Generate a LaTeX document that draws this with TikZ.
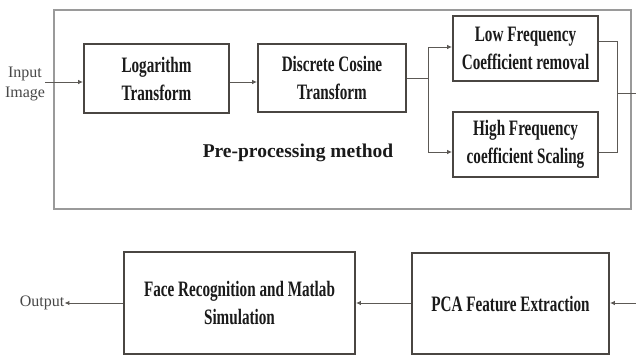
\documentclass[tikz,border=0pt]{standalone}
\usepackage{fontspec}
\setmainfont{Liberation Serif}
\newfontfamily\condbf[FakeStretch=0.69]{Liberation Serif Bold}
\usetikzlibrary{arrows.meta}
\definecolor{boxline}{HTML}{4A4642}
\definecolor{txt}{HTML}{1A1A1A}
\definecolor{frame}{HTML}{9A9A9A}
\begin{document}
\begin{tikzpicture}[x=1pt,y=-1pt,
  blk/.style={draw=boxline,line width=1.8pt,fill=white,align=center,inner sep=0pt,
    text=txt,font=\condbf\fontsize{22}{28}\selectfont},
  lbl/.style={align=center,text=txt!80,inner sep=0pt,font=\fontsize{16}{20}\selectfont},
  conn/.style={draw=boxline!90,line width=1pt},
  arr/.style={conn,-{Latex[length=5pt,width=4.5pt]}}]
\useasboundingbox (0,0) rectangle (636,356);
\fill[white] (0,0) rectangle (636,356);
% outer frame
\draw[frame,line width=1.4pt] (54,10) rectangle (631,209);
% blocks
\node[blk,minimum width=145pt,minimum height=69pt] (lg) at (156.5,78.5) {Logarithm\\Transform};
\node[blk,minimum width=148pt,minimum height=68pt] (dct) at (332,78) {Discrete Cosine\\Transform};
\node[blk,minimum width=145pt,minimum height=65pt] (lf) at (525.5,48.5) {Low Frequency\\Coefficient removal};
\node[blk,minimum width=145pt,minimum height=65pt] (hf) at (525.5,144.5) {High Frequency\\coefficient Scaling};
\node[blk,minimum width=231pt,minimum height=102pt] (fr) at (239.5,303) {Face Recognition and Matlab\\Simulation};
\node[blk,minimum width=197pt,minimum height=101pt] (pca) at (510.5,303.5) {PCA Feature Extraction};
% labels
\node[lbl] (inp) at (25,84) {Input\\Image};
\node[lbl] (out) at (42,303) {Output};
\node[inner sep=0pt,text=txt,font=\bfseries\fontsize{19.5}{22}\selectfont] (pre) at (298,153) {Pre-processing method};
% coordinates
\coordinate (split) at (428,78);
\coordinate (merge) at (617,93);
\coordinate (edgeA) at (636,93);
\coordinate (edgeB) at (636,303);
% connectors
\draw[arr] (inp.east |- 0,82) -- (lg.west |- 0,82);
\draw[arr] (lg.east |- 0,82) -- (dct.west |- 0,82);
\draw[conn] (dct.east |- split) -- (split);
\draw[arr] (split) -- (split |- 0,47) -- (lf.west |- 0,47);
\draw[arr] (split) -- (split |- 0,152) -- (hf.west |- 0,152);
\draw[conn] (lf.east |- 0,41) -- (merge |- 0,41) -- (merge |- 0,152) -- (hf.east |- 0,152);
\draw[conn] (merge) -- (edgeA);
\draw[arr] (edgeB) -- (pca.east |- edgeB);
\draw[arr] (pca.west |- edgeB) -- (fr.east |- edgeB);
\draw[arr] (fr.west) -- (out.east);
\end{tikzpicture}
\end{document}
